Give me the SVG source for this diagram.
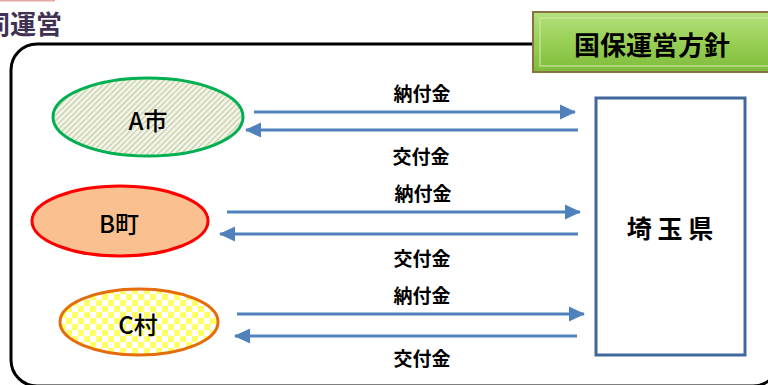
<svg xmlns="http://www.w3.org/2000/svg" width="768" height="385" viewBox="0 0 768 385">
<defs>
<style>
.lbl{font-family:"Noto Sans CJK JP","Noto Sans",sans-serif;font-weight:bold;font-size:19px;fill:#000;text-anchor:middle;dominant-baseline:central}
.node{font-family:"Noto Sans CJK JP","Noto Sans",sans-serif;font-weight:500;font-size:24px;fill:#000;text-anchor:middle;dominant-baseline:central}
.arr{stroke:#4f81bd;stroke-width:3;fill:none}
</style>
<marker id="ah" markerUnits="userSpaceOnUse" markerWidth="16" markerHeight="16" viewBox="0 0 16 16" refX="15" refY="8" orient="auto">
<path d="M0,0.5 L16,8 L0,15.5 Z" fill="#4f81bd"/>
</marker>
<pattern id="hatch" width="4" height="4" patternUnits="userSpaceOnUse" patternTransform="rotate(45)">
<rect width="4" height="4" fill="#f3f6e8"/>
<rect width="1.3" height="4" fill="#c6ccaa"/>
</pattern>
<pattern id="check" width="12" height="12" patternUnits="userSpaceOnUse">
<rect width="12" height="12" fill="#ffffff"/>
<rect width="6" height="6" fill="#ffff66"/>
<rect x="6" y="6" width="6" height="6" fill="#ffff66"/>
</pattern>
<linearGradient id="gTitle" x1="0" y1="0" x2="0" y2="1">
<stop offset="0" stop-color="#b5e07e"/>
<stop offset="0.5" stop-color="#98d055"/>
<stop offset="1" stop-color="#7fbb3c"/>
</linearGradient>
</defs>
<rect x="0" y="0" width="55" height="1.5" fill="#e8a6a6"/>
<text x="62" y="22" style="font-family:'Noto Sans CJK JP',sans-serif;font-weight:bold;font-size:26px;fill:#403152;text-anchor:end;dominant-baseline:central">同運営</text>
<rect id="frame" x="11" y="44" width="768" height="342" rx="26" fill="none" stroke="#000" stroke-width="3"/>
<g id="title">
<rect x="533" y="12" width="245" height="60" fill="url(#gTitle)" stroke="#8a7240" stroke-width="2"/>
<rect x="540" y="18" width="235" height="48" fill="none" stroke="#c6ea9c" stroke-width="2" opacity="0.6"/>
<text x="652" y="43" style="font-family:'Noto Sans CJK JP',sans-serif;font-weight:bold;font-size:26px;fill:#000;text-anchor:middle;dominant-baseline:central">国保運営方針</text>
</g>
<g id="nodeA">
<ellipse cx="148" cy="117" rx="95" ry="39" fill="url(#hatch)" stroke="#00b050" stroke-width="3"/>
<text class="node" x="148" y="119">A市</text>
</g>
<g id="nodeB">
<ellipse cx="120" cy="221" rx="88" ry="35" fill="#fac090" stroke="#ff0000" stroke-width="3"/>
<text class="node" x="119" y="222">B町</text>
</g>
<g id="nodeC">
<ellipse cx="139" cy="322" rx="79" ry="33" fill="url(#check)" stroke="#e46c0a" stroke-width="3"/>
<text class="node" x="138" y="323">C村</text>
</g>
<g id="saitama">
<rect x="596" y="98" width="149" height="257" fill="#fff" stroke="#41689c" stroke-width="3"/>
<text x="670" y="227" style="font-family:'Noto Sans CJK JP',sans-serif;font-weight:bold;font-size:25px;fill:#000;text-anchor:middle;dominant-baseline:central">埼 玉 県</text>
</g>
<g id="connectors">
<line class="arr" x1="254" y1="112" x2="575" y2="112" marker-end="url(#ah)"/>
<line class="arr" x1="578" y1="130" x2="246" y2="130" marker-end="url(#ah)"/>
<line class="arr" x1="227" y1="212" x2="580" y2="212" marker-end="url(#ah)"/>
<line class="arr" x1="578" y1="234" x2="220" y2="234" marker-end="url(#ah)"/>
<line class="arr" x1="237" y1="314" x2="584" y2="314" marker-end="url(#ah)"/>
<line class="arr" x1="577" y1="336" x2="235" y2="336" marker-end="url(#ah)"/>
<text class="lbl" x="422" y="92">納付金</text>
<text class="lbl" x="421" y="155">交付金</text>
<text class="lbl" x="423" y="192">納付金</text>
<text class="lbl" x="422" y="257">交付金</text>
<text class="lbl" x="422" y="294">納付金</text>
<text class="lbl" x="422" y="357">交付金</text>
</g>
</svg>
